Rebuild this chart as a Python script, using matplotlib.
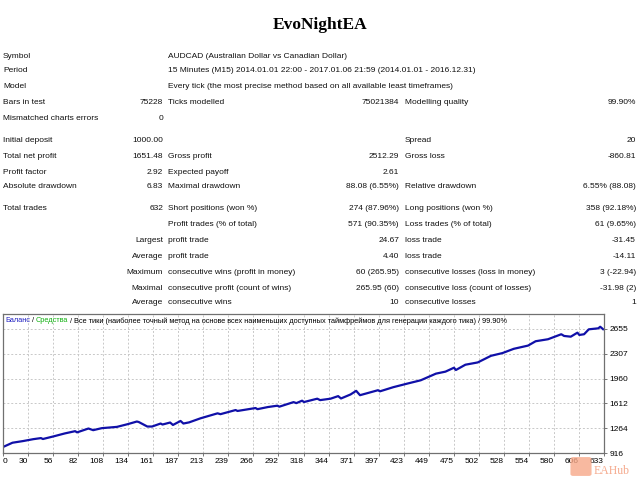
import numpy as np
import matplotlib
matplotlib.use('Agg')
import matplotlib.pyplot as plt
from matplotlib.patches import FancyBboxPatch

# report header
title = 'EvoNightEA'
symbol_txt = 'AUDCAD (Australian Dollar vs Canadian Dollar)'
period_txt = '15 Minutes (M15) 2014.01.01 22:00 - 2017.01.06 21:59 (2014.01.01 - 2016.12.31)'
model_txt = 'Every tick (the most precise method based on all available least timeframes)'

# rows: (label1, value1, label2, value2, label3, value3)
top_rows = [
    ('Bars in test', '75228', 'Ticks modelled', '75021384', 'Modelling quality', '99.90%'),
    ('Mismatched charts errors', '0', '', '', '', ''),
]
mid_rows = [
    ('Initial deposit', '1000.00', '', '', 'Spread', '20'),
    ('Total net profit', '1651.48', 'Gross profit', '2512.29', 'Gross loss', '-860.81'),
    ('Profit factor', '2.92', 'Expected payoff', '2.61', '', ''),
    ('Absolute drawdown', '6.83', 'Maximal drawdown', '88.08 (6.55%)', 'Relative drawdown', '6.55% (88.08)'),
]
trade_rows = [
    ('Total trades', '632', 'Short positions (won %)', '274 (87.96%)', 'Long positions (won %)', '358 (92.18%)'),
    ('', 'Profit trades (% of total)', '', '571 (90.35%)', 'Loss trades (% of total)', '61 (9.65%)'),
    ('', 'Largest', 'profit trade', '24.67', 'loss trade', '-31.45'),
    ('', 'Average', 'profit trade', '4.40', 'loss trade', '-14.11'),
    ('', 'Maximum', 'consecutive wins (profit in money)', '60 (265.95)', 'consecutive losses (loss in money)', '3 (-22.94)'),
    ('', 'Maximal', 'consecutive profit (count of wins)', '265.95 (60)', 'consecutive loss (count of losses)', '-31.98 (2)'),
    ('', 'Average', 'consecutive wins', '10', 'consecutive losses', '1'),
]

# balance curve
trades = [0, 10, 21, 32, 40, 42, 53, 65, 76, 78, 90, 95, 104, 120, 131, 141, 143,
          152, 157, 166, 168, 176, 179, 187, 190, 196, 208, 226, 229, 245, 247, 266,
          268, 279, 289, 291, 306, 309, 315, 317, 331, 334, 345, 353, 356, 366, 372,
          376, 395, 397, 411, 426, 440, 456, 466, 475, 477, 487, 500, 514, 526, 538,
          553, 561, 574, 588, 591, 598, 605, 607, 612, 617, 627, 629, 632]
balance = [1000, 1060, 1083, 1110, 1125, 1112, 1148, 1190, 1222, 1205, 1259, 1236,
           1264, 1282, 1319, 1357, 1350, 1287, 1287, 1329, 1315, 1343, 1309, 1365,
           1329, 1345, 1402, 1472, 1460, 1518, 1505, 1546, 1530, 1560, 1579, 1565,
           1629, 1615, 1649, 1630, 1677, 1657, 1677, 1713, 1680, 1736, 1787, 1726,
           1796, 1780, 1838, 1889, 1935, 2028, 2056, 2111, 2079, 2153, 2185, 2278,
           2316, 2376, 2421, 2482, 2510, 2580, 2556, 2546, 2602, 2570, 2580, 2649,
           2663, 2685, 2651]

x_labels = ['0', '30', '56', '82', '108', '134', '161', '187', '213', '239', '266',
            '292', '318', '344', '371', '397', '423', '449', '475', '502', '528',
            '554', '580', '606', '633']
y_labels = ['916', '1264', '1612', '1960', '2307', '2655']

W, H = 640, 480
fig = plt.figure(figsize=(6.4, 4.8), dpi=100)
FONT = 'Liberation Sans'
FS = 6.0


def put(x, y, s, ha='left', **kw):
    kw.setdefault('fontsize', FS)
    kw.setdefault('family', FONT)
    fig.text(x / W, 1 - y / H, s, ha=ha, va='center', color='#111111', **kw)


fig.text(320 / W, 1 - 29 / H, title, ha='center', va='baseline',
         family='Liberation Serif', fontweight='bold', fontsize=12.5)

# column anchors (px)
c1, c2, c3, c4, c5, c6 = 3, 163, 168, 399, 405, 636

put(c1, 56, 'Symbol'); put(c3, 56, symbol_txt)
put(c1, 71, 'Period'); put(c3, 71, period_txt)
put(c1, 87, 'Model'); put(c3, 87, model_txt)


def put_row(y, row):
    a, b, c, d, e, f = row
    put(c1, y, a)
    put(c2, y, b, ha='right')
    put(c3, y, c)
    put(c4, y, d, ha='right')
    put(c5, y, e)
    put(c6, y, f, ha='right')


for y, row in zip([102, 118], top_rows):
    put_row(y, row)
for y, row in zip([141, 156, 172, 187], mid_rows):
    put_row(y, row)
# first trade row is normal, the rest have the label split around c2/c3
put_row(209, trade_rows[0])
put(c3, 225, trade_rows[1][1]); put(c4, 225, trade_rows[1][3], ha='right')
put(c5, 225, trade_rows[1][4]); put(c6, 225, trade_rows[1][5], ha='right')
for y, row in zip([241, 256, 272, 288, 303], trade_rows[2:]):
    put_row(y, row)

# chart
ax = fig.add_axes([3 / W, 1 - 453 / H, 601 / W, 139 / H])
ax.plot(trades, balance, color='#1010a8', lw=1.6)
ax.set_xlim(0, 633)
step = 347.8
ax.set_ylim(916, 916 + 5.6 * step)
ax.set_xticks(np.linspace(0, 633, len(x_labels)))
ax.set_xticklabels(x_labels)
ax.set_yticks([916 + k * step for k in range(len(y_labels))])
ax.set_yticklabels(y_labels)
for i, lbl in enumerate(ax.get_xticklabels()):
    lbl.set_ha('left' if i == 0 else 'right')
ax.yaxis.tick_right()
ax.tick_params(axis='both', labelsize=6, length=2, width=0.6, color='#606060', pad=2)
ax.tick_params(axis='x', pad=1.5)
for lbl in ax.get_xticklabels() + ax.get_yticklabels():
    lbl.set_family(FONT)
ax.grid(True, color='#c8c8c8', linestyle=(0, (2, 2)), lw=0.7)
for side in ax.spines:
    ax.spines[side].set_color('#707070')
    ax.spines[side].set_linewidth(0.9)

# legend line with coloured parts
parts = [('Баланс', '#2020c0'), (' / ', 'black'), ('Средства', '#10b010'),
         (' / Все тики (наиболее точный метод на основе всех наименьших доступных '
          'таймфреймов для генерации каждого тика) / 99.90%', 'black')]
prev = ax.text(2 / 601, 1 - 7 / 139, parts[0][0], transform=ax.transAxes, color=parts[0][1],
               fontsize=5.3, family=FONT, va='center', ha='left')
for s, col in parts[1:]:
    prev = ax.annotate(s, xy=(1, 0.5), xycoords=prev, va='center', ha='left',
                       color=col, fontsize=5.3, family=FONT)

# watermark
badge = FancyBboxPatch((573 / W, 1 - 474 / H), 16 / W, 15 / H,
                       boxstyle='round,pad=0.004', transform=fig.transFigure,
                       facecolor='#f7a888', edgecolor='none', alpha=0.8)
fig.patches.append(badge)
fig.text(594 / W, 1 - 470.5 / H, 'EAHub', color='#f4a080', fontsize=8.5,
         family='Liberation Serif', ha='left', va='center', alpha=0.9)

fig.savefig('out.png', dpi=100)
